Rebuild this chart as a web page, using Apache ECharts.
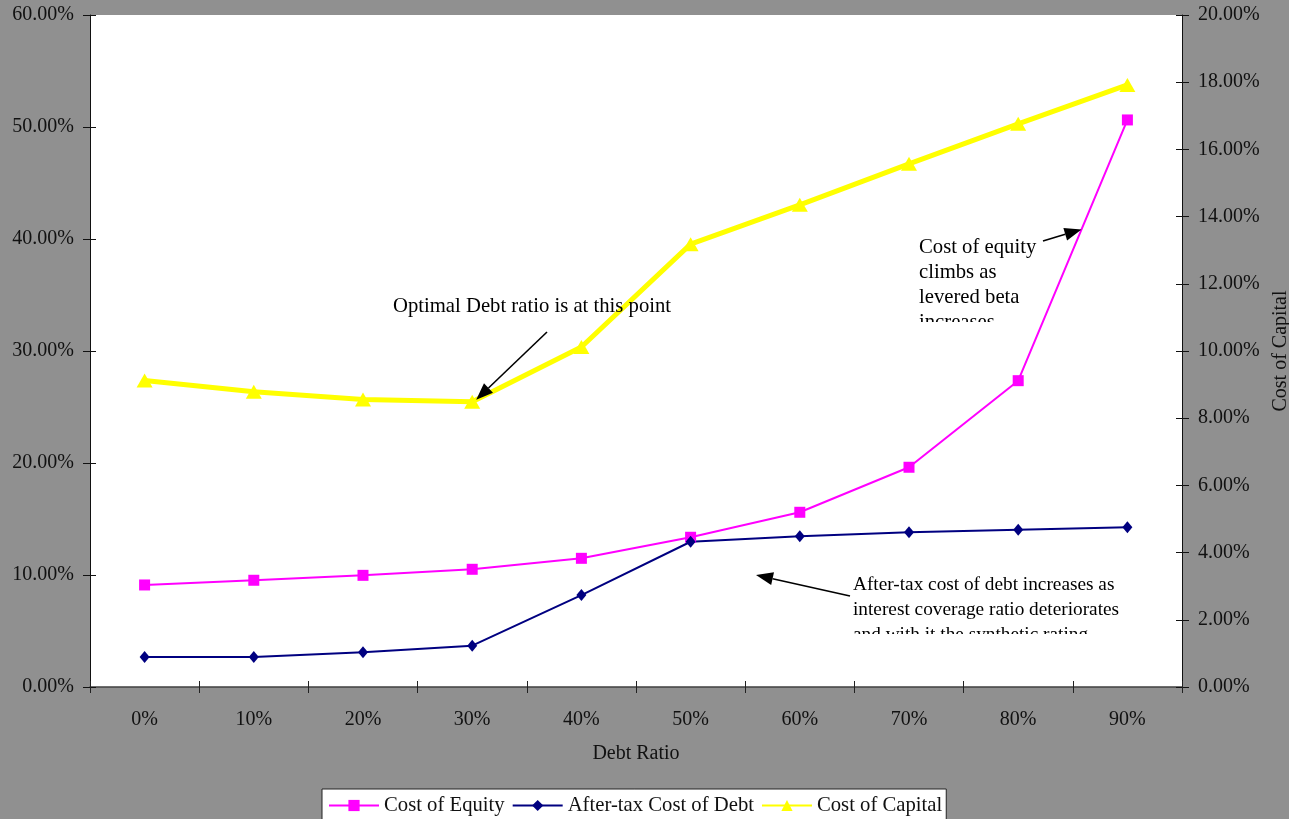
<!DOCTYPE html>
<html>
<head>
<meta charset="utf-8">
<title>Cost of Equity, Debt and Capital vs Debt Ratio</title>
<script src="https://cdn.jsdelivr.net/npm/echarts@6/dist/echarts.min.js"></script>
<style>
  html, body { margin: 0; padding: 0; background: #909090; overflow: hidden; width: 100%; height: 100%; }
  #chart { position: fixed; left: 0; top: 0; width: 100vw; height: 100vh; }
</style>
</head>
<body>
<div id="chart"></div>
<script>
// Debt ratio categories
const debtRatios = ['0%', '10%', '20%', '30%', '40%', '50%', '60%', '70%', '80%', '90%'];
// Cost of equity (%), left axis
const costOfEquity = [9.11, 9.53, 9.97, 10.51, 11.49, 13.37, 15.60, 19.62, 27.35, 50.63];
// After-tax cost of debt (%), left axis
const afterTaxCostOfDebt = [2.68, 2.68, 3.10, 3.69, 8.21, 12.97, 13.46, 13.81, 14.04, 14.26];
// Cost of capital (%), right axis
const costOfCapital = [9.12, 8.79, 8.56, 8.49, 10.12, 13.18, 14.35, 15.57, 16.76, 17.92];

const FONT = 'Liberation Serif';
const TXT = '#111';
const AX_SIZE = 20;
const NOTE_SIZE = 20.7;
const NOTE_SIZE_SMALL = 19.3;

const chart = echarts.init(document.getElementById('chart'), null, { renderer: 'canvas' });

const pct = v => v.toFixed(2) + '%';
const gridBox = { left: 90, right: 107, top: 15, bottom: 132, containLabel: false, outerBoundsMode: 'none' };

const option = {
  backgroundColor: '#909090',
  animation: false,
  textStyle: { fontFamily: FONT },
  grid: [
    Object.assign({ show: true, backgroundColor: '#ffffff', borderWidth: 0 }, gridBox),
    Object.assign({ show: false }, gridBox)
  ],
  xAxis: [
    {
      type: 'category', gridIndex: 0, data: debtRatios, boundaryGap: true,
      name: 'Debt Ratio', nameLocation: 'middle', nameGap: 57,
      nameTextStyle: { fontFamily: FONT, fontSize: AX_SIZE, color: TXT },
      axisLine: { lineStyle: { color: '#404040', width: 1.5 } },
      axisTick: { show: true, inside: false, length: 6, lineStyle: { color: '#222' } },
      axisLabel: { fontFamily: FONT, fontSize: AX_SIZE, color: TXT, margin: 23 },
      splitLine: { show: false }
    },
    {
      // inner half of the crossing tick marks
      type: 'category', gridIndex: 1, data: debtRatios, boundaryGap: true,
      axisLine: { show: false },
      axisTick: { show: true, inside: true, length: 6, lineStyle: { color: '#222' } },
      axisLabel: { show: false }, splitLine: { show: false }
    }
  ],
  yAxis: [
    {
      type: 'value', gridIndex: 0, position: 'left', min: 0, max: 60, interval: 10,
      axisLine: { show: true, lineStyle: { color: '#111', width: 1 } },
      axisTick: { show: true, inside: false, length: 7, lineStyle: { color: '#111' } },
      axisLabel: { fontFamily: FONT, fontSize: AX_SIZE, color: TXT, margin: 16, formatter: pct },
      splitLine: { show: false }
    },
    {
      type: 'value', gridIndex: 0, position: 'right', min: 0, max: 20, interval: 2,
      name: 'Cost of Capital', nameLocation: 'middle', nameGap: 86, nameRotate: 90,
      nameTextStyle: { fontFamily: FONT, fontSize: AX_SIZE, color: TXT },
      axisLine: { show: true, lineStyle: { color: '#111', width: 1 } },
      axisTick: { show: true, inside: false, length: 7, lineStyle: { color: '#111' } },
      axisLabel: { fontFamily: FONT, fontSize: AX_SIZE, color: TXT, margin: 16, formatter: pct },
      splitLine: { show: false }
    },
    {
      type: 'value', gridIndex: 1, position: 'left', min: 0, max: 60, interval: 10,
      axisLine: { show: false },
      axisTick: { show: true, inside: true, length: 6, lineStyle: { color: '#111' } },
      axisLabel: { show: false }, splitLine: { show: false }
    },
    {
      type: 'value', gridIndex: 1, position: 'right', min: 0, max: 20, interval: 2,
      axisLine: { show: false },
      axisTick: { show: true, inside: true, length: 6, lineStyle: { color: '#111' } },
      axisLabel: { show: false }, splitLine: { show: false }
    }
  ],
  legend: {
    left: 322, top: 789,
    backgroundColor: '#ffffff', borderColor: '#222', borderWidth: 1, borderRadius: 0,
    padding: [6, 4, 6, 6],
    itemWidth: 50, itemHeight: 14, itemGap: 7,
    textStyle: { fontFamily: FONT, fontSize: NOTE_SIZE, color: TXT },
    data: ['Cost of Equity', 'After-tax Cost of Debt', 'Cost of Capital']
  },
  series: [
    {
      name: 'Cost of Equity', type: 'line', xAxisIndex: 0, yAxisIndex: 0,
      data: costOfEquity,
      symbol: 'rect', symbolSize: 11,
      lineStyle: { color: '#ff00ff', width: 2 },
      itemStyle: { color: '#ff00ff' }, z: 3
    },
    {
      name: 'After-tax Cost of Debt', type: 'line', xAxisIndex: 0, yAxisIndex: 0,
      data: afterTaxCostOfDebt,
      symbol: 'diamond', symbolSize: [10, 12],
      lineStyle: { color: '#000080', width: 2 },
      itemStyle: { color: '#000080' }, z: 3
    },
    {
      name: 'Cost of Capital', type: 'line', xAxisIndex: 0, yAxisIndex: 1,
      data: costOfCapital,
      symbol: 'triangle', symbolSize: [16, 14],
      lineStyle: { color: '#ffff00', width: 5 },
      itemStyle: { color: '#ffff00' }, z: 2
    }
  ]
};

chart.setOption(option);

// Arrow made of a shaft and a filled head ending at (x2, y2)
function arrow(x1, y1, x2, y2) {
  const dx = x2 - x1, dy = y2 - y1;
  const len = Math.sqrt(dx * dx + dy * dy);
  const ux = dx / len, uy = dy / len;
  const headLen = 17, headHalf = 6.5;
  const bx = x2 - ux * headLen, by = y2 - uy * headLen;
  const px = -uy * headHalf, py = ux * headHalf;
  return [
    { type: 'line', z: 20, shape: { x1: x1, y1: y1, x2: bx, y2: by },
      style: { stroke: '#000', lineWidth: 1.6 } },
    { type: 'polygon', z: 20, shape: { points: [[x2, y2], [bx + px, by + py], [bx - px, by - py]] },
      style: { fill: '#000' } }
  ];
}

function note(lines, x, y, size) {
  return { type: 'text', z: 20, x: x, y: y,
    style: { text: lines.join('\n'), fill: '#000', font: size + 'px "' + FONT + '"', lineHeight: 25,
      verticalAlign: 'top', align: 'left' } };
}

// Optimal point: lowest cost of capital
const optIdx = costOfCapital.indexOf(Math.min.apply(null, costOfCapital));
const optPt = chart.convertToPixel({ seriesIndex: 2 }, [optIdx, costOfCapital[optIdx]]);
// A point on the cost-of-equity segment between 80% and 90%
const pA = chart.convertToPixel({ seriesIndex: 0 }, [8, costOfEquity[8]]);
const pB = chart.convertToPixel({ seriesIndex: 0 }, [9, costOfEquity[9]]);
const tEq = 0.58;
const eqPt = [pA[0] + (pB[0] - pA[0]) * tEq, pA[1] + (pB[1] - pA[1]) * tEq];

const graphics = [].concat(
  [note(['Optimal Debt ratio is at this point'], 393, 294, NOTE_SIZE)],
  arrow(547, 332, optPt[0] + 4, optPt[1] - 2),
  [note(['Cost of equity', 'climbs as', 'levered beta', 'increases'], 919, 235, NOTE_SIZE)],
  arrow(1043, 241, eqPt[0], eqPt[1]),
  [{ type: 'rect', z: 21, shape: { x: 912, y: 322, width: 100, height: 22 }, style: { fill: '#ffffff' } }],
  [note(['After-tax cost of debt increases as', 'interest coverage ratio deteriorates', 'and with it the synthetic rating'], 853, 572, NOTE_SIZE_SMALL)],
  arrow(850, 596, 756, 575),
  [{ type: 'rect', z: 21, shape: { x: 845, y: 634, width: 290, height: 22 }, style: { fill: '#ffffff' } }]
);

chart.setOption({ graphic: graphics });
</script>
</body>
</html>
